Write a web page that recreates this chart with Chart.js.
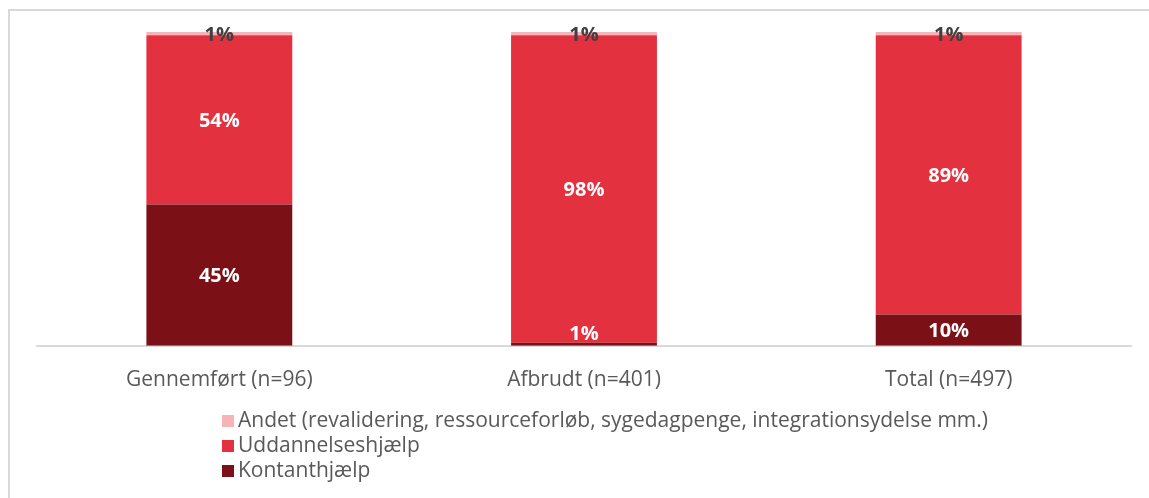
<!DOCTYPE html>
<html>
<head>
<meta charset="utf-8">
<script src="https://cdn.jsdelivr.net/npm/chart.js@4/dist/chart.umd.min.js"></script>
<style>
  body { margin: 0; background: #fff; font-family: "Open Sans", sans-serif; }
  #frame { position: absolute; left: 8px; top: 9px; width: 1200px; height: 560px; border: 2px solid #d9d9d9; }
  #wrap { position: absolute; left: 0; top: 0; width: 1149px; height: 430px; }
  #legend { position: absolute; left: 222px; top: 407px; color: #595959; font-size: 21px; line-height: 24.8px; white-space: nowrap; }
  #legend .box { display: inline-block; width: 12px; height: 12px; margin-right: 4px; vertical-align: 0px; }
</style>
</head>
<body>
<div id="frame"></div>
<div id="wrap"><canvas id="barChartCanvas" width="1149" height="430"></canvas></div>
<div id="legend"></div>
<script>
const categories = ['Gennemført (n=96)', 'Afbrudt (n=401)', 'Total (n=497)'];
const kontanthjaelp = [45, 1, 10];
const uddannelseshjaelp = [54, 98, 89];
const andet = [1, 1, 1];

// etiketter midt i hvert segment
const labelsPlugin = {
    id: 'segLabels',
    afterDatasetsDraw(chart) {
        const ctx = chart.ctx;
        const bottom = chart.chartArea.bottom;
        ctx.save();
        ctx.font = 'bold 20px "Open Sans", sans-serif';
        ctx.textAlign = 'center';
        ctx.textBaseline = 'middle';
        chart.data.datasets.forEach((ds, i) => {
            chart.getDatasetMeta(i).data.forEach((bar, j) => {
                const y = Math.min((bar.y + bar.base) / 2 + 1.5, bottom - 12);
                ctx.fillStyle = ds.labelColor;
                ctx.fillText(ds.data[j] + '%', bar.x, y);
            });
        });
        ctx.restore();
    }
};

const chart = new Chart('barChartCanvas', {
    type: 'bar',
    data: {
        labels: categories,
        datasets: [
            { label: 'Kontanthjælp', data: kontanthjaelp, backgroundColor: '#7b1116', labelColor: '#ffffff' },
            { label: 'Uddannelseshjælp', data: uddannelseshjaelp, backgroundColor: '#e3313f', labelColor: '#ffffff' },
            { label: 'Andet (revalidering, ressourceforløb, sygedagpenge, integrationsydelse mm.)', data: andet, backgroundColor: '#f4b4b8', labelColor: '#404040' }
        ]
    },
    options: {
        responsive: false,
        animation: false,
        datasets: { bar: { categoryPercentage: 1, barPercentage: 0.4, borderWidth: 0 } },
        layout: { padding: { left: 37, right: 18, top: 32, bottom: 15 } },
        plugins: { legend: { display: false }, tooltip: { enabled: false } },
        scales: {
            x: {
                stacked: true,
                grid: { display: false, drawTicks: false },
                border: { color: '#d9d9d9', width: 2 },
                ticks: { color: '#595959', font: { family: '"Open Sans", sans-serif', size: 21 }, padding: 22 }
            },
            y: { stacked: true, display: false, min: 0, max: 100 }
        }
    },
    plugins: [labelsPlugin]
});

// legende som i forlægget: lodret liste, øverste serie først
const legend = document.getElementById('legend');
chart.data.datasets.slice().reverse().forEach(ds => {
    const row = document.createElement('div');
    row.innerHTML = '<span class="box" style="background:' + ds.backgroundColor + '"></span>' + ds.label;
    legend.appendChild(row);
});
</script>
</body>
</html>
